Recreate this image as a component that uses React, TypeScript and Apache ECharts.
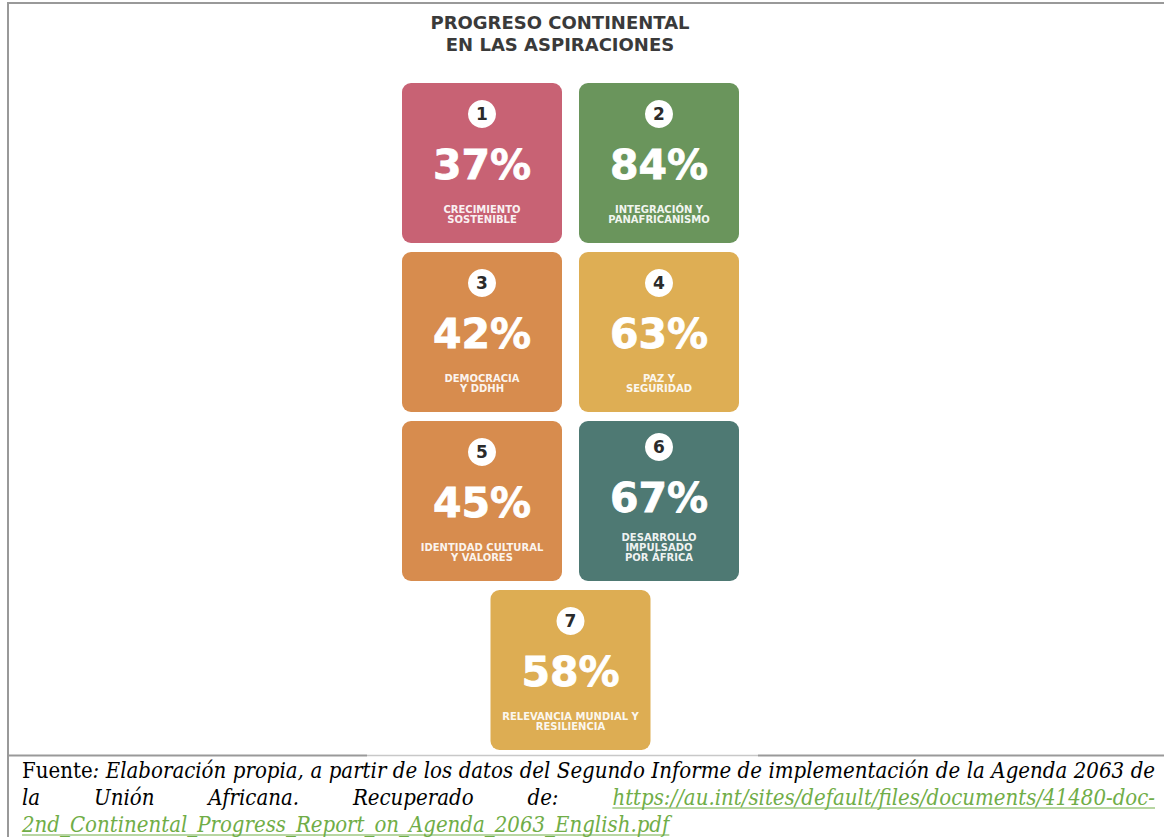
import React, { useEffect, useRef } from "react";
import * as echarts from "echarts";

// ---- Data ----
const aspirationNumbers = [1, 2, 3, 4, 5, 6, 7];
const progressValues = [37, 84, 42, 63, 45, 67, 58];
const aspirationLabels = [
  "CRECIMIENTO\nSOSTENIBLE",
  "INTEGRACIÓN Y\nPANAFRICANISMO",
  "DEMOCRACIA\nY DDHH",
  "PAZ Y\nSEGURIDAD",
  "IDENTIDAD CULTURAL\nY VALORES",
  "DESARROLLO\nIMPULSADO\nPOR ÁFRICA",
  "RELEVANCIA MUNDIAL Y\nRESILIENCIA",
];
const tileColumns = [0, 1, 0, 1, 0, 1, 0.5];
const tileRows = [0, 0, 1, 1, 2, 2, 3];
const tileColors = ["#C86274", "#6A955C", "#D78C4E", "#DEAE54", "#D78C4E", "#4E7973", "#DDAD53"];

const titleLines = ["PROGRESO CONTINENTAL", "EN LAS ASPIRACIONES"];

type Seg = { t: string; it: boolean; link?: boolean };
const sourceLines: Seg[][][] = [
  [
    [{ t: "Fuente", it: false }, { t: ":", it: true }],
    ...("Elaboración propia, a partir de los datos del Segundo Informe de implementación de la Agenda 2063 de"
      .split(" ")
      .map((w) => [{ t: w, it: true }])),
  ],
  [
    ...["la", "Unión", "Africana.", "Recuperado", "de:"].map((w) => [{ t: w, it: true }]),
    [{ t: "https://au.int/sites/default/files/documents/41480-doc-", it: true, link: true }],
  ],
  [[{ t: "2nd_Continental_Progress_Report_on_Agenda_2063_English.pdf", it: true, link: true }]],
];

const FOOT_SIZE = 22;
const footFont = (it: boolean) =>
  `${it ? "italic " : ""}${FOOT_SIZE}px "DejaVu Serif Condensed", "DejaVu Serif"`;

function buildFooter(): any[] {
  const canvas = document.createElement("canvas");
  const ctx = canvas.getContext("2d")!;
  const measure = (s: Seg) => {
    ctx.font = footFont(s.it);
    return ctx.measureText(s.t).width;
  };
  const left = 22;
  const right = 1155;
  const lineYs = [770, 797, 824];
  const els: any[] = [];
  sourceLines.forEach((words, li) => {
    const widths = words.map((w) => w.reduce((a, s) => a + measure(s), 0));
    const total = widths.reduce((a, b) => a + b, 0);
    const isLast = li === sourceLines.length - 1;
    ctx.font = footFont(true);
    const spaceW = ctx.measureText(" ").width;
    const gap = isLast || words.length < 2 ? spaceW : (right - left - total) / (words.length - 1);
    let x = left;
    words.forEach((w, wi) => {
      let sx = x;
      w.forEach((s) => {
        const sw = measure(s);
        const color = s.link ? "#70AD47" : "#000000";
        els.push({
          type: "text",
          x: sx,
          y: lineYs[li],
          silent: true,
          style: {
            text: s.t,
            font: footFont(s.it),
            fill: color,
            align: "left",
            verticalAlign: "middle",
            textAlign: "left",
            textVerticalAlign: "middle",
          },
        });
        if (s.link) {
          els.push({
            type: "line",
            silent: true,
            shape: { x1: sx, y1: lineYs[li] + 11, x2: sx + sw, y2: lineYs[li] + 11 },
            style: { stroke: "#70AD47", lineWidth: 1.2 },
          });
        }
        sx += sw;
      });
      x += widths[wi] + gap;
    });
  });
  return els;
}

export default function App() {
  const ref = useRef<HTMLDivElement>(null);
  useEffect(() => {
    if (!ref.current) return;
    const chart = echarts.init(ref.current, null, { renderer: "svg" });
    const data = aspirationNumbers.map((n, i) => [tileColumns[i], tileRows[i], progressValues[i], n - 1]);
    const TILE = 160;
    const option: any = {
      animation: false,
      backgroundColor: "#ffffff",
      grid: { left: 393.5, top: 78.5, width: 354, height: 676 },
      xAxis: { type: "value", min: -0.5, max: 1.5, show: false },
      yAxis: { type: "value", min: -0.5, max: 3.5, inverse: true, show: false },
      series: [
        {
          type: "custom",
          data,
          clip: false,
          renderItem: (params: any, api: any) => {
            const idx = api.value(3);
            const [cx, cy] = api.coord([api.value(0), api.value(1)]);
            const label = aspirationLabels[idx];
            const nLines = label.split("\n").length;
            const shift = nLines > 2 ? -5 : 0;
            const children: any[] = [
              {
                type: "rect",
                shape: { x: cx - TILE / 2, y: cy - TILE / 2, width: TILE, height: TILE, r: 9 },
                style: { fill: tileColors[idx] },
              },
              {
                type: "circle",
                shape: { cx: cx, cy: cy - 49 + shift, r: 14 },
                style: { fill: "#FFFFFF" },
              },
              {
                type: "text",
                x: cx,
                y: cy - 49 + shift,
                style: {
                  text: String(aspirationNumbers[idx]),
                  font: 'bold 17px "DejaVu Sans"',
                  fill: "#2B2B2B",
                  align: "center",
                  verticalAlign: "middle",
                  textAlign: "center",
                  textVerticalAlign: "middle",
                },
              },
              {
                type: "text",
                x: cx,
                y: cy + 2 + shift,
                style: {
                  text: `${api.value(2)}%`,
                  font: 'bold 41px "DejaVu Sans"',
                  fill: "#FFFFFF",
                  stroke: "#FFFFFF",
                  lineWidth: 0.8,
                  align: "center",
                  verticalAlign: "middle",
                  textAlign: "center",
                  textVerticalAlign: "middle",
                },
              },
              {
                type: "text",
                x: cx,
                y: cy + (nLines > 2 ? 46.5 : 51),
                style: {
                  text: label,
                  font: 'bold 10px "DejaVu Sans"',
                  lineHeight: 10,
                  fill: "rgba(255,255,255,0.93)",
                  align: "center",
                  verticalAlign: "middle",
                  textAlign: "center",
                  textVerticalAlign: "middle",
                },
              },
            ];
            return { type: "group", children };
          },
        },
      ],
      graphic: [
        // frame lines
        { type: "line", silent: true, shape: { x1: 8, y1: 3, x2: 1164, y2: 3 }, style: { stroke: "#999999", lineWidth: 2 } },
        { type: "line", silent: true, shape: { x1: 8, y1: 2, x2: 8, y2: 837 }, style: { stroke: "#999999", lineWidth: 2 } },
        { type: "line", silent: true, shape: { x1: 8, y1: 755.5, x2: 367, y2: 755.5 }, style: { stroke: "#999999", lineWidth: 2 } },
        { type: "line", silent: true, shape: { x1: 367, y1: 755.5, x2: 758, y2: 755.5 }, style: { stroke: "#C8C8C8", lineWidth: 1.5 } },
        { type: "line", silent: true, shape: { x1: 758, y1: 755.5, x2: 1164, y2: 755.5 }, style: { stroke: "#999999", lineWidth: 2 } },
        // title
        ...titleLines.map((t, i) => ({
          type: "text",
          x: 560,
          y: 22.5 + i * 22,
          silent: true,
          style: {
            text: t,
            font: 'bold 18px "DejaVu Sans"',
            fill: "#3A3A3A",
            align: "center",
            verticalAlign: "middle",
            textAlign: "center",
            textVerticalAlign: "middle",
          },
        })),
        ...buildFooter(),
      ],
    };
    chart.setOption(option);
    return () => chart.dispose();
  }, []);
  return (
    <div
      ref={ref}
      style={{ position: "absolute", left: 0, top: 0, width: 1164, height: 837, background: "#fff" }}
    />
  );
}
